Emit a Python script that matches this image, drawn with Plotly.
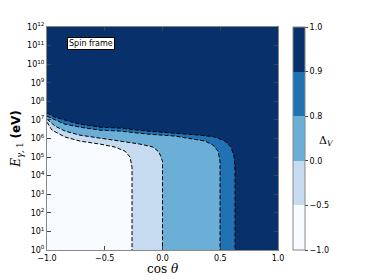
import plotly.graph_objects as go

# contour levels of Delta_V and their fill colours (Blues)
niveles = [-1.0, -0.5, 0.0, 0.8, 0.9, 1.0]
colores = ["#f7fbff", "#c6dbef", "#6baed6", "#2171b5", "#08306b"]

# boundaries: cos(theta) and log10(E / eV)
cos_09 = [-1.0, -0.931, -0.844, -0.714, -0.541, -0.368, -0.134, 0.108, 0.325, 0.455, 0.541, 0.593, 0.619, 0.628, 0.628]
logE_09 = [7.37, 7.15, 6.99, 6.77, 6.61, 6.56, 6.40, 6.29, 6.18, 6.08, 5.86, 5.54, 5.05, 4.30, 0.0]

cos_08 = [-1.0, -0.931, -0.844, -0.714, -0.541, -0.368, -0.134, 0.108, 0.281, 0.368, 0.437, 0.481, 0.498, 0.498]
logE_08 = [7.20, 6.99, 6.77, 6.61, 6.45, 6.40, 6.24, 6.13, 5.97, 5.86, 5.65, 5.32, 4.78, 0.0]

cos_00 = [-1.0, -0.931, -0.844, -0.714, -0.541, -0.368, -0.195, -0.082, -0.030, 0.0, 0.0]
logE_00 = [7.04, 6.67, 6.40, 6.18, 6.02, 5.86, 5.70, 5.54, 5.27, 4.78, 0.0]

cos_m05 = [-1.0, -0.957, -0.844, -0.714, -0.541, -0.411, -0.325, -0.281, -0.264, -0.264]
logE_m05 = [6.88, 6.45, 6.08, 5.86, 5.70, 5.54, 5.32, 5.00, 4.46, 0.0]

fronteras = [(cos_09, logE_09), (cos_08, logE_08), (cos_00, logE_00), (cos_m05, logE_m05)]

fig = go.Figure()

# regions below each boundary, painted from the outer one inwards
for (xs, ls), color in zip(fronteras, colores[3::-1]):
    ys = [10 ** v for v in ls]
    fig.add_trace(go.Scatter(
        x=xs + [-1.0], y=ys + [1.0], mode="lines", fill="toself",
        fillcolor=color, line=dict(width=0), hoverinfo="skip", showlegend=False
    ))

for xs, ls in fronteras:
    fig.add_trace(go.Scatter(
        x=xs, y=[10 ** v for v in ls], mode="lines",
        line=dict(color="black", width=1, dash="4px,2px"),
        hoverinfo="skip", showlegend=False
    ))

# colour bar with evenly spaced bins like matplotlib contourf
n = len(colores)
escala = []
for i, c in enumerate(colores):
    escala.append([i / n, c])
    escala.append([(i + 1) / n, c])
fig.add_trace(go.Scatter(
    x=[5.0, 5.0], y=[1.0, 1.0], mode="markers", hoverinfo="skip", showlegend=False,
    marker=dict(
        size=1, opacity=0, color=[0, n], cmin=0, cmax=n, colorscale=escala, showscale=True,
        colorbar=dict(
            x=1.065, xanchor="left", xpad=0, y=0, yanchor="bottom", ypad=0,
            len=1, lenmode="fraction", thickness=12,
            outlinecolor="#888", outlinewidth=1,
            tickvals=list(range(n + 1)),
            ticktext=[f"{v:.1f}".replace("-", "\u2212") for v in niveles],
            ticks="outside", ticklen=3, tickcolor="#444",
            tickfont=dict(family="DejaVu Sans", size=8, color="black"),
        ),
    ),
))

exps = list(range(0, 13))
fig.update_yaxes(
    type="log", range=[0, 12], automargin=False,
    tickvals=[10 ** e for e in exps],
    ticktext=[f"10<sup>{e}</sup>" for e in exps],
    ticks="inside", ticklen=4, tickcolor="#444",
    showline=True, linecolor="#888", linewidth=1, mirror="ticks",
    showgrid=False, zeroline=False,
    tickfont=dict(family="DejaVu Sans", size=8, color="black"),
    title=dict(
        text="<span style='font-family:DejaVu Serif'><i>E</i><sub><i>\u03b3</i>, 1</sub></span> <b>(eV)</b>",
        font=dict(family="DejaVu Sans", size=12, color="black"), standoff=3,
    ),
)
fig.update_xaxes(
    range=[-1, 1], automargin=False,
    tickvals=[-1.0, -0.5, 0.0, 0.5, 1.0],
    ticktext=["\u22121.0", "\u22120.5", "0.0", "0.5", "1.0"],
    ticks="inside", ticklen=4, tickcolor="#444",
    showline=True, linecolor="#888", linewidth=1, mirror="ticks",
    showgrid=False, zeroline=False,
    tickfont=dict(family="DejaVu Sans", size=8, color="black"),
)

fig.add_annotation(
    x=0.5, y=-0.083, xref="paper", yref="paper", showarrow=False,
    xanchor="center", yanchor="middle", text="cos <i>\u03b8</i>",
    font=dict(family="DejaVu Serif", size=12, color="black"),
)
fig.add_annotation(
    x=0.19, y=0.928, xref="paper", yref="paper", text="Spin frame", showarrow=False,
    xanchor="center", yanchor="middle",
    font=dict(family="DejaVu Sans", size=8, color="black"),
    bgcolor="white", bordercolor="black", borderwidth=1, borderpad=1,
)
fig.add_annotation(
    x=1.21, y=0.49, xref="paper", yref="paper", showarrow=False,
    xanchor="center", yanchor="middle",
    text="\u0394<sub><i>V</i></sub>",
    font=dict(family="DejaVu Serif", size=11, color="black"),
)

# the page body adds 8 px around the figure, so the figure is 8 px smaller
fig.update_layout(
    width=366, height=272,
    margin=dict(l=39, r=96, t=19, b=30, autoexpand=False),
    plot_bgcolor=colores[-1], paper_bgcolor="white",
)

fig.write_html("out.html")
